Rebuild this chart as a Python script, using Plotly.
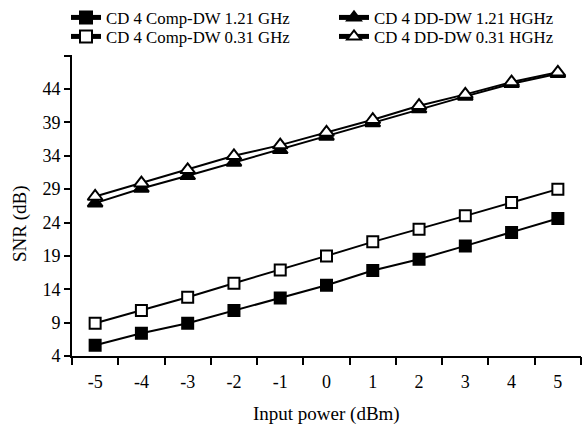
import plotly.graph_objects as go

x_vals = [-5, -4, -3, -2, -1, 0, 1, 2, 3, 4, 5]
comp_121 = [5.6, 7.4, 8.9, 10.8, 12.7, 14.6, 16.8, 18.5, 20.5, 22.5, 24.6]
comp_031 = [8.9, 10.8, 12.8, 14.9, 16.9, 19.0, 21.1, 23.0, 25.0, 27.0, 29.0]
dd_121 = [26.9, 29.1, 31.0, 33.0, 34.9, 36.9, 38.9, 41.0, 42.9, 44.8, 46.3]
dd_031 = [27.9, 29.9, 31.9, 34.0, 35.6, 37.5, 39.4, 41.5, 43.2, 45.05, 46.5]
y_ticks = [4, 9, 14, 19, 24, 29, 34, 39, 44, 49]
y_labels = ["4", "9", "14", "19", "24", "29", "34", "39", "44", ""]
x_bounds = [-5.5, -4.5, -3.5, -2.5, -1.5, -0.5, 0.5, 1.5, 2.5, 3.5, 4.5, 5.5]

FONT = "Liberation Serif"
W, H = 586, 429

fig = go.Figure()

def add(name, y, symbol, fill, size, legend):
    fig.add_trace(go.Scatter(
        x=x_vals, y=y, name=name, mode="lines+markers",
        line=dict(color="black", width=2),
        marker=dict(symbol=symbol, size=size, color=fill,
                    line=dict(color="black", width=2)),
        legend=legend,
    ))

add("CD 4 Comp-DW 1.21 GHz", comp_121, "square", "black", 11, "legend")
add("CD 4 Comp-DW 0.31 GHz", comp_031, "square", "white", 11, "legend2")
add("CD 4 DD-DW 1.21 HGHz", dd_121, "triangle-up", "black", 13, "legend3")
add("CD 4 DD-DW 0.31 HGHz", dd_031, "triangle-up", "white", 13, "legend4")

# invisible trace on the overlay axis so it gets drawn
fig.add_trace(go.Scatter(x=[x_bounds[0], x_bounds[-1]], y=[None, None],
                         xaxis="x2", showlegend=False, hoverinfo="skip"))

def leg(xpx, ypx):
    return dict(xref="container", yref="container", x=xpx / W, y=1 - ypx / H,
                xanchor="left", yanchor="top", font=dict(size=16.8, family=FONT),
                bgcolor="rgba(0,0,0,0)", borderwidth=0, itemsizing="constant")

fig.update_layout(
    width=W, height=H,
    margin=dict(l=72, r=5, t=55, b=73, autoexpand=False),
    paper_bgcolor="white", plot_bgcolor="white",
    font=dict(family=FONT, size=18, color="black"),
    legend=leg(66, -3),
    legend2=leg(66, 19),
    legend3=leg(334, -3),
    legend4=leg(334, 19),
    xaxis=dict(
        range=[-5.5, 5.5], tickmode="array", tickvals=x_vals,
        ticktext=[str(v) for v in x_vals], ticks="", showgrid=False,
        zeroline=False, showline=True, linecolor="black", linewidth=2,
        tickfont=dict(size=18, family=FONT), ticklabelstandoff=8,
    ),
    xaxis2=dict(
        overlaying="x", side="bottom", anchor="y",
        range=[-5.5, 5.5], tickmode="array", tickvals=x_bounds,
        showticklabels=False, ticks="outside", ticklen=8, tickwidth=2,
        tickcolor="black", showgrid=False, zeroline=False, showline=False,
    ),
    yaxis=dict(
        range=[4, 49.1], tickmode="array", tickvals=y_ticks, ticktext=y_labels,
        ticks="outside", ticklen=6, tickwidth=2, tickcolor="black",
        showgrid=False, zeroline=False, showline=True, linecolor="black",
        linewidth=2, tickfont=dict(size=18, family=FONT),
    ),
    annotations=[
        dict(text="SNR (dB)", xref="paper", yref="paper",
             x=(20 - 72) / 509, y=(356 - 224) / 301, xanchor="center",
             yanchor="middle", textangle=-90, showarrow=False,
             font=dict(size=19, family=FONT)),
        dict(text="Input power (dBm)", xref="paper", yref="paper",
             x=0.5, y=-(414 - 356) / 301, xanchor="center",
             yanchor="middle", showarrow=False,
             font=dict(size=19, family=FONT)),
    ],
)

fig.write_html("out.html")
